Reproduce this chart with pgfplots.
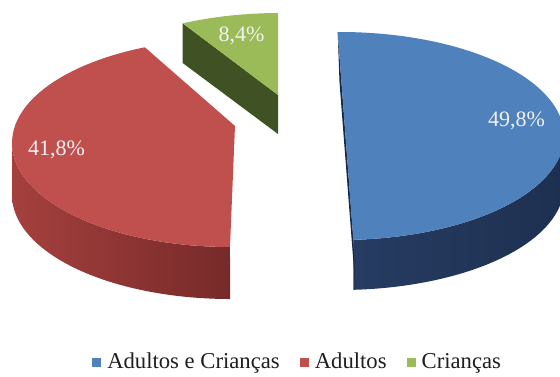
\documentclass[border=0pt]{standalone}
\usepackage{fontspec}
\setmainfont{Liberation Serif}
\usepackage{pgfplots}
\pgfplotsset{compat=1.18}
\definecolor{bluetop}{RGB}{79,129,189}
\definecolor{bluesideL}{RGB}{38,60,98}
\definecolor{bluesideR}{RGB}{30,48,80}
\definecolor{bluecut}{RGB}{26,42,70}
\definecolor{redtop}{RGB}{192,80,77}
\definecolor{redsideL}{RGB}{165,64,62}
\definecolor{redsideR}{RGB}{118,42,41}
\definecolor{greentop}{RGB}{155,187,89}
\definecolor{greencut}{RGB}{64,82,36}
\definecolor{labeltext}{RGB}{242,242,242}
\definecolor{legtext}{RGB}{30,30,30}
\begin{document}
\begin{tikzpicture}
\begin{axis}[
  scale only axis, width=420pt, height=280.5pt,
  xmin=0, xmax=560, ymin=0, ymax=374, y dir=reverse,
  hide axis, clip=true,
  legend style={at={(axis description cs:0.532,0.032)}, anchor=center, draw=none, fill=none,
    legend columns=3, font=\fontsize{17}{19}\selectfont, text=legtext,
    /tikz/every odd column/.append style={column sep=2.5pt},
    /tikz/every even column/.append style={column sep=13pt}},
  legend image code/.code={\fill[#1] (0pt,-3.4pt) rectangle (6.8pt,3.4pt);},
]
\path (axis cs:0,0) rectangle (axis cs:560,374);
% sides (not in legend)
\addplot[draw=none, left color=bluesideL, right color=bluesideR, domain=-86.6:3, samples=60, variable=\t, forget plot]
  ({340+224*cos(\t)},{136-104*sin(\t)}) -- plot[domain=3:-86.6, samples=60, variable=\t] ({340+224*cos(\t)},{186-104*sin(\t)}) -- cycle;
\addplot[draw=none, fill=bluecut, forget plot] coordinates {(337.7,32.3) (353.3,238.3) (355.5,289.5) (339.5,82.3)} -- cycle;
\addplot[draw=none, left color=redsideL, right color=redsideR, domain=180:270, samples=60, variable=\t, forget plot]
  ({230+218*cos(\t)},{143-104*sin(\t)}) -- plot[domain=270:180, samples=60, variable=\t] ({230+218*cos(\t)},{195-104*sin(\t)}) -- cycle;
\addplot[draw=none, fill=greencut, forget plot] coordinates {(182.7,23.3) (278,95) (278,134) (182.7,63)} -- cycle;
% top faces
\addplot[draw=none, fill=bluetop, domain=-86.6:90.6, samples=120, variable=\t]
  ({340+224*cos(\t)},{136-104*sin(\t)}) -- cycle;
\addlegendentry{Adultos e Crianças}
\addplot[draw=none, fill=redtop, domain=113:270, samples=100, variable=\t]
  ({230+218*cos(\t)},{143-104*sin(\t)}) -- (235,126) -- cycle;
\addlegendentry{Adultos}
\addplot[draw=none, fill=greentop, domain=90.5:116, samples=30, variable=\t]
  ({280+222*cos(\t)},{115-102*sin(\t)}) -- (278,95) -- cycle;
\addlegendentry{Crianças}
% data labels
\node[text=labeltext, font=\fontsize{16.5}{18}\selectfont] at (axis cs:516.5,120.5) {49,8\%};
\node[text=labeltext, font=\fontsize{16.5}{18}\selectfont] at (axis cs:56.5,150) {41,8\%};
\node[text=labeltext, font=\fontsize{16.5}{18}\selectfont] at (axis cs:241.5,36) {8,4\%};
\end{axis}
\end{tikzpicture}
\end{document}
